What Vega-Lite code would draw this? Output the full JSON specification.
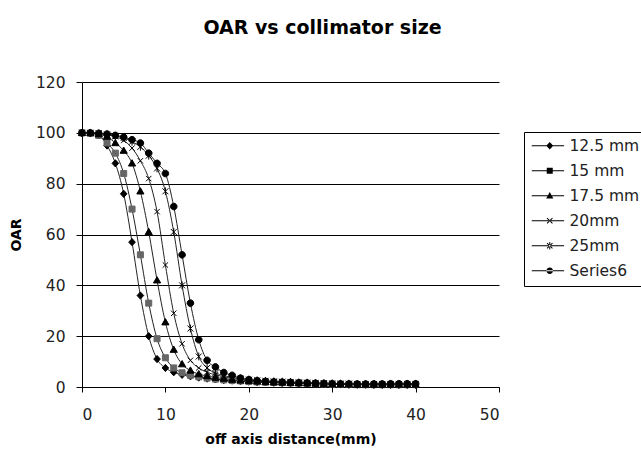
{
  "$schema": "https://vega.github.io/schema/vega-lite/v6.json",
  "width": 417,
  "height": 305,
  "autosize": {"type": "none"},
  "padding": {"left": 82, "top": 82, "right": 142, "bottom": 66},
  "background": "white",
  "title": {"text": "OAR vs collimator size", "font": "DejaVu Sans", "fontWeight": "bold", "fontSize": 19, "color": "#000", "anchor": "middle", "dx": 32, "offset": 37},
  "config": {
    "view": {"stroke": null},
    "axis": {"labelFont": "DejaVu Sans", "labelFontSize": 15.5, "labelColor": "#222", "titleFont": "DejaVu Sans", "titleFontWeight": "bold", "titleFontSize": 14, "titleColor": "#000", "domainColor": "#000", "tickColor": "#000", "domainWidth": 1, "tickWidth": 1}
  },
  "datasets": {
    "oar": [
      {"s":"12.5 mm","x":0,"y":100},{"s":"12.5 mm","x":1,"y":99.8},{"s":"12.5 mm","x":2,"y":99},{"s":"12.5 mm","x":3,"y":95},{"s":"12.5 mm","x":4,"y":88},{"s":"12.5 mm","x":5,"y":76},{"s":"12.5 mm","x":6,"y":57},{"s":"12.5 mm","x":7,"y":36},{"s":"12.5 mm","x":8,"y":20},{"s":"12.5 mm","x":9,"y":11},{"s":"12.5 mm","x":10,"y":7.5},
      {"s":"12.5 mm","x":11,"y":5.8},{"s":"12.5 mm","x":12,"y":4.8},{"s":"12.5 mm","x":13,"y":4.2},{"s":"12.5 mm","x":14,"y":3.7},{"s":"12.5 mm","x":15,"y":3.3},{"s":"12.5 mm","x":16,"y":3.0},{"s":"12.5 mm","x":17,"y":2.7},{"s":"12.5 mm","x":18,"y":2.5},{"s":"12.5 mm","x":19,"y":2.3},{"s":"12.5 mm","x":20,"y":2.1},
      {"s":"12.5 mm","x":21,"y":1.9},{"s":"12.5 mm","x":22,"y":1.8},{"s":"12.5 mm","x":23,"y":1.7},{"s":"12.5 mm","x":24,"y":1.6},{"s":"12.5 mm","x":25,"y":1.5},{"s":"12.5 mm","x":26,"y":1.4},{"s":"12.5 mm","x":27,"y":1.3},{"s":"12.5 mm","x":28,"y":1.2},{"s":"12.5 mm","x":29,"y":1.1},{"s":"12.5 mm","x":30,"y":1.0},
      {"s":"12.5 mm","x":31,"y":1.0},{"s":"12.5 mm","x":32,"y":0.9},{"s":"12.5 mm","x":33,"y":0.9},{"s":"12.5 mm","x":34,"y":0.9},{"s":"12.5 mm","x":35,"y":0.8},{"s":"12.5 mm","x":36,"y":0.8},{"s":"12.5 mm","x":37,"y":0.8},{"s":"12.5 mm","x":38,"y":0.8},{"s":"12.5 mm","x":39,"y":0.8},{"s":"12.5 mm","x":40,"y":0.8},

      {"s":"15 mm","x":0,"y":100},{"s":"15 mm","x":1,"y":99.8},{"s":"15 mm","x":2,"y":99},{"s":"15 mm","x":3,"y":96},{"s":"15 mm","x":4,"y":92},{"s":"15 mm","x":5,"y":84},{"s":"15 mm","x":6,"y":70},{"s":"15 mm","x":7,"y":52},{"s":"15 mm","x":8,"y":33},{"s":"15 mm","x":9,"y":19},{"s":"15 mm","x":10,"y":11.5},
      {"s":"15 mm","x":11,"y":7.5},{"s":"15 mm","x":12,"y":5.6},{"s":"15 mm","x":13,"y":4.6},{"s":"15 mm","x":14,"y":4.0},{"s":"15 mm","x":15,"y":3.5},{"s":"15 mm","x":16,"y":3.1},{"s":"15 mm","x":17,"y":2.8},{"s":"15 mm","x":18,"y":2.6},{"s":"15 mm","x":19,"y":2.4},{"s":"15 mm","x":20,"y":2.2},
      {"s":"15 mm","x":21,"y":2.0},{"s":"15 mm","x":22,"y":1.9},{"s":"15 mm","x":23,"y":1.8},{"s":"15 mm","x":24,"y":1.7},{"s":"15 mm","x":25,"y":1.6},{"s":"15 mm","x":26,"y":1.5},{"s":"15 mm","x":27,"y":1.4},{"s":"15 mm","x":28,"y":1.3},{"s":"15 mm","x":29,"y":1.2},{"s":"15 mm","x":30,"y":1.1},
      {"s":"15 mm","x":31,"y":1.0},{"s":"15 mm","x":32,"y":1.0},{"s":"15 mm","x":33,"y":0.9},{"s":"15 mm","x":34,"y":0.9},{"s":"15 mm","x":35,"y":0.9},{"s":"15 mm","x":36,"y":0.9},{"s":"15 mm","x":37,"y":0.9},{"s":"15 mm","x":38,"y":0.9},{"s":"15 mm","x":39,"y":0.9},{"s":"15 mm","x":40,"y":0.9},

      {"s":"17.5 mm","x":0,"y":100},{"s":"17.5 mm","x":1,"y":100},{"s":"17.5 mm","x":2,"y":99.5},{"s":"17.5 mm","x":3,"y":98.5},{"s":"17.5 mm","x":4,"y":96},{"s":"17.5 mm","x":5,"y":93},{"s":"17.5 mm","x":6,"y":88},{"s":"17.5 mm","x":7,"y":77},{"s":"17.5 mm","x":8,"y":61},{"s":"17.5 mm","x":9,"y":42},{"s":"17.5 mm","x":10,"y":25.5},
      {"s":"17.5 mm","x":11,"y":14.7},{"s":"17.5 mm","x":12,"y":9},{"s":"17.5 mm","x":13,"y":6.5},{"s":"17.5 mm","x":14,"y":5.1},{"s":"17.5 mm","x":15,"y":4.3},{"s":"17.5 mm","x":16,"y":3.7},{"s":"17.5 mm","x":17,"y":3.3},{"s":"17.5 mm","x":18,"y":2.9},{"s":"17.5 mm","x":19,"y":2.6},{"s":"17.5 mm","x":20,"y":2.4},
      {"s":"17.5 mm","x":21,"y":2.2},{"s":"17.5 mm","x":22,"y":2.0},{"s":"17.5 mm","x":23,"y":1.9},{"s":"17.5 mm","x":24,"y":1.8},{"s":"17.5 mm","x":25,"y":1.7},{"s":"17.5 mm","x":26,"y":1.6},{"s":"17.5 mm","x":27,"y":1.5},{"s":"17.5 mm","x":28,"y":1.4},{"s":"17.5 mm","x":29,"y":1.3},{"s":"17.5 mm","x":30,"y":1.2},
      {"s":"17.5 mm","x":31,"y":1.1},{"s":"17.5 mm","x":32,"y":1.1},{"s":"17.5 mm","x":33,"y":1.0},{"s":"17.5 mm","x":34,"y":1.0},{"s":"17.5 mm","x":35,"y":1.0},{"s":"17.5 mm","x":36,"y":1.0},{"s":"17.5 mm","x":37,"y":1.0},{"s":"17.5 mm","x":38,"y":1.0},{"s":"17.5 mm","x":39,"y":1.0},{"s":"17.5 mm","x":40,"y":1.0},

      {"s":"20mm","x":0,"y":100},{"s":"20mm","x":1,"y":100},{"s":"20mm","x":2,"y":99.8},{"s":"20mm","x":3,"y":99.3},{"s":"20mm","x":4,"y":98.5},{"s":"20mm","x":5,"y":97},{"s":"20mm","x":6,"y":94},{"s":"20mm","x":7,"y":89},{"s":"20mm","x":8,"y":82},{"s":"20mm","x":9,"y":69},{"s":"20mm","x":10,"y":48},
      {"s":"20mm","x":11,"y":29},{"s":"20mm","x":12,"y":17},{"s":"20mm","x":13,"y":10.5},{"s":"20mm","x":14,"y":7.5},{"s":"20mm","x":15,"y":5.8},{"s":"20mm","x":16,"y":4.8},{"s":"20mm","x":17,"y":4.0},{"s":"20mm","x":18,"y":3.4},{"s":"20mm","x":19,"y":3.0},{"s":"20mm","x":20,"y":2.7},
      {"s":"20mm","x":21,"y":2.5},{"s":"20mm","x":22,"y":2.3},{"s":"20mm","x":23,"y":2.1},{"s":"20mm","x":24,"y":2.0},{"s":"20mm","x":25,"y":1.9},{"s":"20mm","x":26,"y":1.7},{"s":"20mm","x":27,"y":1.6},{"s":"20mm","x":28,"y":1.5},{"s":"20mm","x":29,"y":1.4},{"s":"20mm","x":30,"y":1.3},
      {"s":"20mm","x":31,"y":1.2},{"s":"20mm","x":32,"y":1.2},{"s":"20mm","x":33,"y":1.1},{"s":"20mm","x":34,"y":1.1},{"s":"20mm","x":35,"y":1.1},{"s":"20mm","x":36,"y":1.1},{"s":"20mm","x":37,"y":1.1},{"s":"20mm","x":38,"y":1.1},{"s":"20mm","x":39,"y":1.1},{"s":"20mm","x":40,"y":1.1},

      {"s":"25mm","x":0,"y":100},{"s":"25mm","x":1,"y":100},{"s":"25mm","x":2,"y":99.8},{"s":"25mm","x":3,"y":99.4},{"s":"25mm","x":4,"y":98.8},{"s":"25mm","x":5,"y":98},{"s":"25mm","x":6,"y":96.5},{"s":"25mm","x":7,"y":94.5},{"s":"25mm","x":8,"y":91},{"s":"25mm","x":9,"y":86},{"s":"25mm","x":10,"y":77},
      {"s":"25mm","x":11,"y":61},{"s":"25mm","x":12,"y":40},{"s":"25mm","x":13,"y":23},{"s":"25mm","x":14,"y":12},{"s":"25mm","x":15,"y":7.5},{"s":"25mm","x":16,"y":5.5},{"s":"25mm","x":17,"y":4.5},{"s":"25mm","x":18,"y":3.8},{"s":"25mm","x":19,"y":3.3},{"s":"25mm","x":20,"y":2.9},
      {"s":"25mm","x":21,"y":2.6},{"s":"25mm","x":22,"y":2.4},{"s":"25mm","x":23,"y":2.2},{"s":"25mm","x":24,"y":2.1},{"s":"25mm","x":25,"y":2.0},{"s":"25mm","x":26,"y":1.8},{"s":"25mm","x":27,"y":1.7},{"s":"25mm","x":28,"y":1.6},{"s":"25mm","x":29,"y":1.5},{"s":"25mm","x":30,"y":1.4},
      {"s":"25mm","x":31,"y":1.3},{"s":"25mm","x":32,"y":1.3},{"s":"25mm","x":33,"y":1.2},{"s":"25mm","x":34,"y":1.2},{"s":"25mm","x":35,"y":1.2},{"s":"25mm","x":36,"y":1.2},{"s":"25mm","x":37,"y":1.2},{"s":"25mm","x":38,"y":1.2},{"s":"25mm","x":39,"y":1.2},{"s":"25mm","x":40,"y":1.2},

      {"s":"Series6","x":0,"y":100},{"s":"Series6","x":1,"y":100},{"s":"Series6","x":2,"y":99.8},{"s":"Series6","x":3,"y":99.5},{"s":"Series6","x":4,"y":99},{"s":"Series6","x":5,"y":98.3},{"s":"Series6","x":6,"y":97.3},{"s":"Series6","x":7,"y":96},{"s":"Series6","x":8,"y":92},{"s":"Series6","x":9,"y":88},{"s":"Series6","x":10,"y":84},
      {"s":"Series6","x":11,"y":71},{"s":"Series6","x":12,"y":52},{"s":"Series6","x":13,"y":33},{"s":"Series6","x":14,"y":18.6},{"s":"Series6","x":15,"y":10.5},{"s":"Series6","x":16,"y":7.9},{"s":"Series6","x":17,"y":5.7},{"s":"Series6","x":18,"y":4.6},{"s":"Series6","x":19,"y":3.5},{"s":"Series6","x":20,"y":2.9},
      {"s":"Series6","x":21,"y":2.5},{"s":"Series6","x":22,"y":2.2},{"s":"Series6","x":23,"y":2.0},{"s":"Series6","x":24,"y":1.9},{"s":"Series6","x":25,"y":1.8},{"s":"Series6","x":26,"y":1.7},{"s":"Series6","x":27,"y":1.6},{"s":"Series6","x":28,"y":1.5},{"s":"Series6","x":29,"y":1.4},{"s":"Series6","x":30,"y":1.3},
      {"s":"Series6","x":31,"y":1.3},{"s":"Series6","x":32,"y":1.2},{"s":"Series6","x":33,"y":1.2},{"s":"Series6","x":34,"y":1.2},{"s":"Series6","x":35,"y":1.2},{"s":"Series6","x":36,"y":1.2},{"s":"Series6","x":37,"y":1.3},{"s":"Series6","x":38,"y":1.3},{"s":"Series6","x":39,"y":1.3},{"s":"Series6","x":40,"y":1.3}
    ]
  },
  "data": {"name": "oar"},
  "encoding": {
    "x": {"field": "x", "type": "quantitative", "scale": {"domain": [0, 50], "nice": false, "zero": false},
      "axis": {"title": "off axis distance(mm)", "values": [0, 10, 20, 30, 40, 50], "grid": false, "tickSize": 5, "labelPadding": 15, "titlePadding": 10}},
    "y": {"field": "y", "type": "quantitative", "scale": {"domain": [0, 120], "nice": false},
      "axis": {"title": "OAR", "values": [0, 20, 40, 60, 80, 100, 120], "grid": true, "gridColor": "#000", "gridOpacity": 1, "gridWidth": 1, "tickSize": 6, "labelPadding": 11, "titlePadding": 12}}
  },
  "resolve": {"scale": {"shape": "independent"}, "legend": {"shape": "independent"}},
  "layer": [
    {
      "mark": {"type": "line", "interpolate": "monotone", "strokeWidth": 1, "color": "#222"},
      "encoding": {"detail": {"field": "s"}}
    },
    {
      "mark": {"type": "point", "filled": true, "size": 144, "strokeWidth": 1, "opacity": 1},
      "encoding": {
        "shape": {"field": "s", "type": "nominal",
          "scale": {"domain": ["12.5 mm", "15 mm", "17.5 mm", "20mm", "25mm", "Series6"],
            "range": ["M0,-0.6L0.55,0L0,0.6L-0.55,0Z", "M-0.5,-0.5L0.5,-0.5L0.5,0.5L-0.5,0.5Z", "M0,-0.6L0.6,0.45L-0.6,0.45Z", "M-0.45,-0.45L0.45,0.45M-0.45,0.45L0.45,-0.45", "M-0.5,-0.5L0.5,0.5M-0.5,0.5L0.5,-0.5M0,-0.65L0,0.65", "M-0.55,0A0.55,0.55,0,1,0,0.55,0A0.55,0.55,0,1,0,-0.55,0Z"]},
          "legend": null
        },
        "fill": {"field": "s", "type": "nominal", "scale": {"domain": ["12.5 mm", "15 mm", "17.5 mm", "20mm", "25mm", "Series6"], "range": ["#000", "#666", "#000", "#000", "#000", "#000"]}, "legend": null},
        "stroke": {"field": "s", "type": "nominal", "scale": {"domain": ["12.5 mm", "15 mm", "17.5 mm", "20mm", "25mm", "Series6"], "range": ["#000", "#666", "#000", "#000", "#000", "#000"]}, "legend": null}
      }
    },
    {
      "transform": [{"filter": "datum.x > 1000"}],
      "mark": {"type": "point", "filled": true, "fill": "#000", "size": 144, "opacity": 1},
      "encoding": {
        "shape": {"field": "s", "type": "nominal",
          "scale": {"domain": ["12.5 mm", "15 mm", "17.5 mm", "20mm", "25mm", "Series6"],
            "range": [
              "M-1,-0.09L4.4,-0.09L4.4,0.09L-1,0.09ZM2,-0.62L2.58,0L2,0.62L1.42,0Z",
              "M-1,-0.09L4.4,-0.09L4.4,0.09L-1,0.09ZM1.5,-0.48L2.5,-0.48L2.5,0.48L1.5,0.48Z",
              "M-1,-0.09L4.4,-0.09L4.4,0.09L-1,0.09ZM2,-0.62L2.6,0.45L1.4,0.45Z",
              "M-1,-0.09L4.4,-0.09L4.4,0.09L-1,0.09ZM1.493,-0.393L2.393,0.507L2.507,0.393L1.607,-0.507ZM1.607,0.507L2.507,-0.393L2.393,-0.507L1.493,0.393Z",
              "M-1,-0.09L4.4,-0.09L4.4,0.09L-1,0.09ZM1.493,-0.393L2.393,0.507L2.507,0.393L1.607,-0.507ZM1.607,0.507L2.507,-0.393L2.393,-0.507L1.493,0.393ZM1.92,-0.62L2.08,-0.62L2.08,0.62L1.92,0.62Z",
              "M-1,-0.09L4.4,-0.09L4.4,0.09L-1,0.09ZM1.45,0A0.55,0.55,0,1,0,2.55,0A0.55,0.55,0,1,0,1.45,0Z"
            ]},
          "legend": {"orient": "none", "legendX": 442, "legendY": 50, "title": null, "padding": 6, "rowPadding": 8, "strokeColor": "#000", "fillColor": "#fff",
            "labelFont": "DejaVu Sans", "labelFontSize": 15.5, "labelColor": "#222", "labelOffset": 24, "labelLimit": 0, "symbolSize": 144, "symbolFillColor": "#000"}
        }
      }
    }
  ]
}
